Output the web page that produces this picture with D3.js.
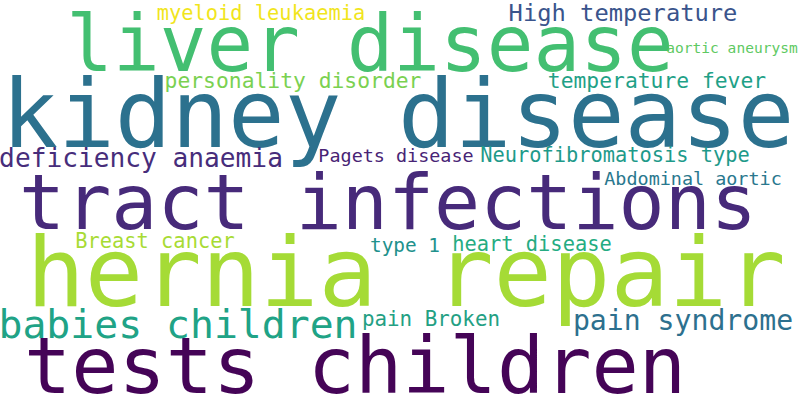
<!DOCTYPE html>
<html>
<head>
<meta charset="utf-8">
<script src="https://cdn.jsdelivr.net/npm/d3@7/dist/d3.min.js"></script>
<style>
  html, body { margin: 0; padding: 0; background: #fff; }
  svg { display: block; }
</style>
</head>
<body>
<div id="cloud"></div>
<script>
// words and their relative weight (1 = largest)
var words = ["hernia repair", "kidney disease", "liver disease", "tract infections",
    "tests children", "babies children", "pain syndrome", "deficiency anaemia",
    "High temperature", "personality disorder", "temperature fever", "Breast cancer",
    "heart disease", "pain Broken", "myeloid leukaemia", "Neurofibromatosis type",
    "type 1", "Pagets disease", "Abdominal aortic", "aortic aneurysm"];
var weights = [1.0, 0.97, 0.80, 0.79, 0.81, 0.41, 0.29, 0.27, 0.245, 0.22,
    0.22, 0.21, 0.21, 0.215, 0.21, 0.21, 0.20, 0.19, 0.19, 0.15];
var colors = ["#a5db36", "#2c718e", "#43bf71", "#472a7a", "#450457", "#20a386",
    "#2d708e", "#472d7b", "#3a548c", "#7ad151", "#1fa187", "#a8db34",
    "#25ac82", "#23a083", "#f1e51d", "#1e9a8a", "#21918c", "#482475",
    "#2a788e", "#5ec962"];

// where the cloud put each word: centre x, baseline y (800x400 canvas)
var layout = [[406, 306], [398, 147], [370, 71], [388, 229], [355, 393],
    [178, 338], [683, 330], [141, 167], [623, 21], [293, 88], [657, 88],
    [155, 248], [532, 251], [431, 326], [261, 20], [615, 162], [405, 252],
    [396, 162], [693, 185], [732, 53]];

var width = 800, height = 400;

var x = d3.scaleLinear().domain([0, 800]).range([0, width]);
var y = d3.scaleLinear().domain([0, 400]).range([0, height]);
var size = d3.scaleLinear().domain([0, 1]).range([0, 97]);

var data = words.map(function(w, i) {
    return {text: w, weight: weights[i], color: colors[i], pos: layout[i]};
});

var svg = d3.select("#cloud").append("svg")
    .attr("width", width)
    .attr("height", height);

svg.append("rect")
    .attr("width", width)
    .attr("height", height)
    .attr("fill", "#fff");

svg.selectAll(".word")
    .data(data)
    .enter().append("text")
    .attr("class", "word")
    .attr("x", function(d) { return x(d.pos[0]); })
    .attr("y", function(d) { return y(d.pos[1]); })
    .attr("text-anchor", "middle")
    .style("font-family", "'DejaVu Sans Mono', monospace")
    .style("font-size", function(d) { return size(d.weight) + "px"; })
    .style("fill", function(d) { return d.color; })
    .text(function(d) { return d.text; });
</script>
</body>
</html>
